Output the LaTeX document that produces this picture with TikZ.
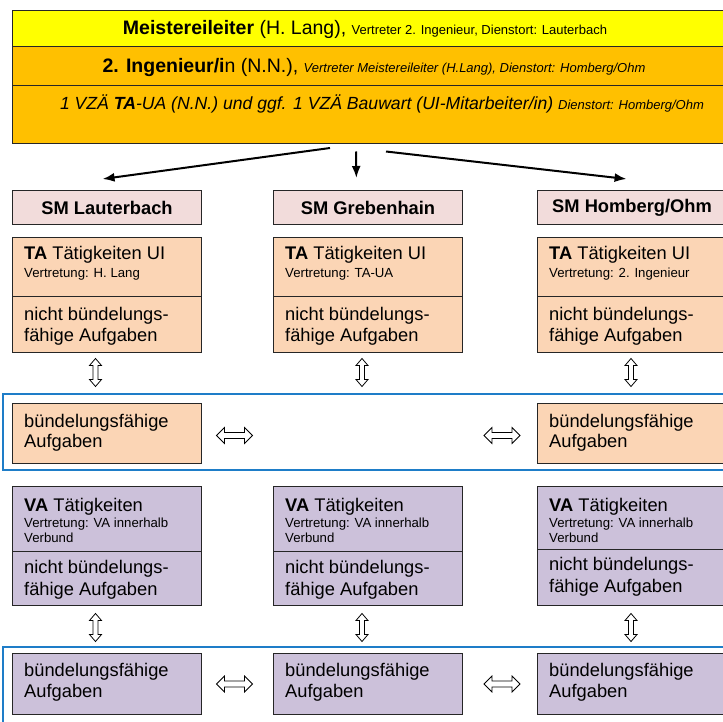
\documentclass[tikz,border=0pt]{standalone}
\usepackage{fontspec}
\setmainfont{Liberation Sans}
\usetikzlibrary{arrows.meta,calc}
\definecolor{hdyellow}{HTML}{FFFF00}
\definecolor{hdorange}{HTML}{FFC000}
\definecolor{smpink}{HTML}{F2DCDB}
\definecolor{peach}{HTML}{FBD5B5}
\definecolor{lilac}{HTML}{CCC1DA}
\definecolor{framblue}{RGB}{30,125,200}
\newcommand\fbig{\fontsize{18.3}{22}\selectfont}
\newcommand\fsmall{\fontsize{13.2}{16}\selectfont}
\newcommand\fhead{\fontsize{19.5}{22}\selectfont}
\newcommand\fhsmall{\fontsize{13}{16}\selectfont}
\tikzset{
  box/.style={draw=black!85, line width=1.1pt, rectangle, inner sep=0pt, anchor=north west},
  txt/.style={inner sep=0pt, anchor=base west, font=\fbig},
  stxt/.style={inner sep=0pt, anchor=base west, font=\fsmall},
  htxt/.style={inner sep=0pt, anchor=base},
  frame/.style={draw=framblue, line width=1.1pt},
  mainarrow/.style={line width=2pt, -{Latex[length=12pt,width=9pt]}},
  pics/vdarr/.style={code={\draw[line width=0.8pt, fill=white]
     (0,-14) -- (6,-7) -- (2.5,-7) -- (2.5,7) -- (6,7) -- (0,14) -- (-6,7) -- (-2.5,7) -- (-2.5,-7) -- (-6,-7) -- cycle;}},
  pics/hdarr/.style={code={\draw[line width=0.8pt, fill=white]
     (-18,0) -- (-10,-8) -- (-10,-3) -- (10,-3) -- (10,-8) -- (18,0) -- (10,8) -- (10,3) -- (-10,3) -- (-10,8) -- cycle;}}
}
\begin{document}
\begin{tikzpicture}[x=1pt,y=-1pt]
\useasboundingbox (0,0) rectangle (723,722);
\fill[white] (0,0) rectangle (723,722);
\clip (0,0) rectangle (723,722);

% header
\node[box, fill=hdyellow, minimum width=728pt, minimum height=36pt] (lead) at (12,10) {};
\node[box, fill=hdorange, minimum width=728pt, minimum height=39pt] (ing) at (12,46) {};
\node[box, fill=hdorange, minimum width=728pt, minimum height=58pt] (staff) at (12,85) {};
\node[htxt] (t1) at (365,35) {\fhead\textbf{Meistereileiter} (H. Lang), \fhsmall Vertreter 2. Ingenieur, Dienstort: Lauterbach};
\node[htxt] (t2) at (374,72.5) {\fhead\textbf{2. Ingenieur/i}n (N.N.), \fhsmall\itshape Vertreter Meistereileiter (H.Lang), Dienstort: Homberg/Ohm};
\node[htxt] (t3) at (382,110) {\fontsize{17.6}{22}\selectfont\itshape 1 VZÄ \textbf{TA}-UA (N.N.) und ggf. 1 VZÄ Bauwart (UI-Mitarbeiter/in) \fhsmall Dienstort: Homberg/Ohm};

% SM boxes
\node[box, fill=smpink, minimum width=189pt, minimum height=34pt, font=\fbig\bfseries] (sm1) at (12,190) {SM Lauterbach};
\node[box, fill=smpink, minimum width=189pt, minimum height=34pt, font=\fbig\bfseries] (sm2) at (273,190) {SM Grebenhain};
\node[box, fill=smpink, minimum width=189pt, minimum height=34pt, font=\fbig\bfseries] (sm3) at (537,190) {SM Homberg/Ohm};

% arrows from header
\coordinate (s1) at (330,148);
\coordinate (s2) at (356,151.5);
\coordinate (s3) at (386,151.5);
\coordinate (e1) at ($(sm1.north)+(-4.5,-11)$);
\coordinate (e2) at ($(sm2.north)+(-11.7,-12)$);
\coordinate (e3) at ($(sm3.north)+(-5.5,-11)$);
\draw[mainarrow] (s1) -- (e1);
\draw[mainarrow] (s2) -- (e2);
\draw[mainarrow] (s3) -- (e3);

% TA boxes
\foreach \i/\x/\v in {1/12/H. Lang, 2/273/TA-UA, 3/537/2. Ingenieur}{
  \node[box, fill=peach, minimum width=189pt, minimum height=59pt] (ta\i) at (\x,237) {};
  \node[box, fill=peach, minimum width=189pt, minimum height=56pt] (tb\i) at (\x,296) {};
  \node[txt] (tat\i) at (\x+12,259) {\textbf{TA} Tätigkeiten UI};
  \node[stxt] (tav\i) at (\x+12,277) {Vertretung: \v};
  \node[txt] (tbn\i) at (\x+12,320) {nicht bündelungs-};
  \node[txt] (tbf\i) at (\x+12,341) {fähige Aufgaben};
}

% vertical double arrows (TA)
\pic at (95.5,372.5) {vdarr};
\pic at (362,372.5) {vdarr};
\pic at (631,372.5) {vdarr};

% frame 1 + bundle boxes (TA)
\draw[frame] (3,394) rectangle (735,470);
\node[box, fill=peach, minimum width=189pt, minimum height=60pt] (bt1) at (12,403) {};
\node[box, fill=peach, minimum width=189pt, minimum height=60pt] (bt3) at (537,403) {};
\node[txt] (bt1a) at (24,427) {bündelungsfähige};
\node[txt] (bt1b) at (24,447.5) {Aufgaben};
\node[txt] (bt3a) at (549,427) {bündelungsfähige};
\node[txt] (bt3b) at (549,447.5) {Aufgaben};
\pic at (234.5,435.5) {hdarr};
\pic at (502,435.5) {hdarr};

% VA boxes
\node[box, fill=lilac, minimum width=189pt, minimum height=65pt] (va1) at (12,486) {};
\node[box, fill=lilac, minimum width=189pt, minimum height=54pt] (vb1) at (12,551) {};
\node[box, fill=lilac, minimum width=189pt, minimum height=65pt] (va2) at (273,486) {};
\node[box, fill=lilac, minimum width=189pt, minimum height=54pt] (vb2) at (273,551) {};
\node[box, fill=lilac, minimum width=189pt, minimum height=62.5pt] (va3) at (537,486) {};
\node[box, fill=lilac, minimum width=189pt, minimum height=56.5pt] (vb3) at (537,548.5) {};
\foreach \i/\x/\d in {1/12/0, 2/273/0, 3/537/-2.5}{
  \node[txt] (vat\i) at (\x+12,511.5) {\textbf{VA} Tätigkeiten};
  \node[stxt] (vav\i) at (\x+12,527) {Vertretung: VA innerhalb};
  \node[stxt] (vaw\i) at (\x+12,542) {Verbund};
  \node[txt] (vbn\i) at (\x+12,573+\d) {nicht bündelungs-};
  \node[txt] (vbf\i) at (\x+12,595+\d) {fähige Aufgaben};
}

% vertical double arrows (VA)
\pic at (95.5,627.5) {vdarr};
\pic at (362,627.5) {vdarr};
\pic at (631,627.5) {vdarr};

% frame 2 + bundle boxes (VA)
\draw[frame] (3,647) rectangle (735,735);
\foreach \i/\x in {1/12, 2/273, 3/537}{
  \node[box, fill=lilac, minimum width=189pt, minimum height=61pt] (bv\i) at (\x,653) {};
  \node[txt] (bv\i a) at (\x+12,676) {bündelungsfähige};
  \node[txt] (bv\i b) at (\x+12,697) {Aufgaben};
}
\pic at (234.5,684) {hdarr};
\pic at (502,684) {hdarr};
\end{tikzpicture}
\end{document}
